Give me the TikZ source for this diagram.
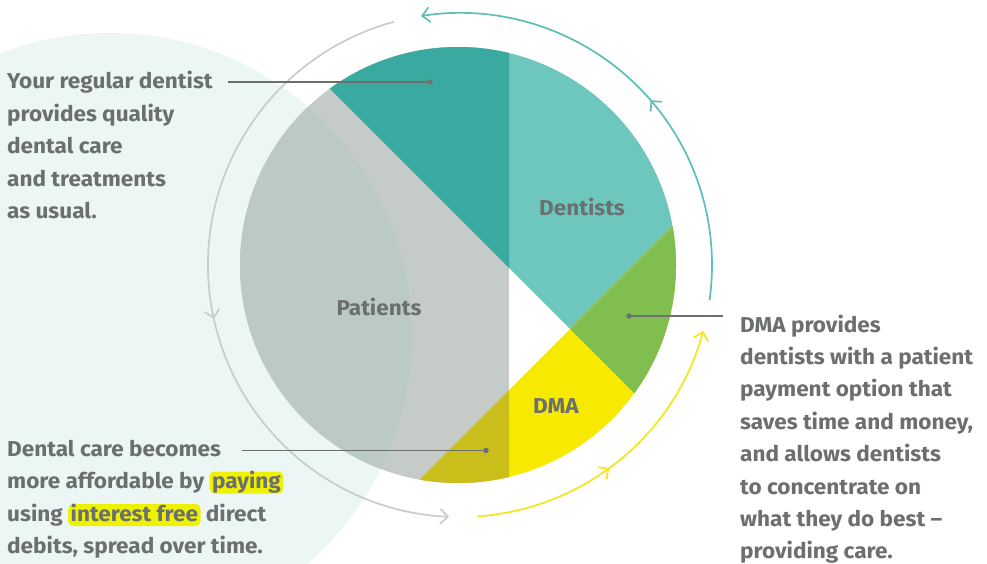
\documentclass[tikz,border=0pt]{standalone}
\usepackage{fontspec}
\setmainfont{Fira Sans}[FakeStretch=1.05]
\usetikzlibrary{arrows.meta,decorations.markings,calc}
\definecolor{mint}{HTML}{ECF6F4}
\definecolor{tealD}{HTML}{3AA9A0}
\definecolor{tealL}{HTML}{6DC7BD}
\definecolor{greenG}{HTML}{80BE4F}
\definecolor{yelY}{HTML}{F7EA00}
\definecolor{oliveO}{HTML}{CABE1B}
\definecolor{greyP}{HTML}{C5CBC8}
\definecolor{greyM}{HTML}{BCCAC6}
\definecolor{tealA}{HTML}{5DBFB7}
\definecolor{yelA}{HTML}{F5E61A}
\definecolor{greyA}{HTML}{C8CCCB}
\definecolor{leadgrey}{HTML}{6E7070}
\definecolor{textgrey}{HTML}{6B6F6F}
\definecolor{hlyel}{HTML}{EEF200}
\begin{document}
\begin{tikzpicture}[x=1pt,y=1pt,
  txt/.style={font=\fontsize{21.5}{24}\selectfont\bfseries, text=textgrey, inner sep=0pt, anchor=base west},
  hlword/.style={font=\fontsize{21.5}{24}\selectfont\bfseries, text=textgrey, fill=hlyel, rounded corners=5pt,
     inner xsep=2.5pt, inner ysep=1.5pt, text height=15.5pt, text depth=3.5pt, anchor=base west},
  lbl/.style={font=\fontsize{21.5}{26}\selectfont\bfseries, text=textgrey, inner sep=0pt},
  leader/.style={draw=leadgrey, line width=1.4pt},
  dotmark/.style={circle, fill=leadgrey, inner sep=0pt, minimum size=5.5pt},
  barb/.tip={Straight Barb[length=7.5pt,width=15pt]},
  flow/.style={line width=1.7pt, -barb, postaction={decorate},
     decoration={markings, mark=at position #1 with {\arrow{barb}}}},
]
\useasboundingbox (0,0) rectangle (987,-563);
\fill[white] (0,0) rectangle (987,-563);
\coordinate (mc) at (110,-335);
\coordinate (pc) at (458,-265);
\coordinate (ac) at (460,-265);
% background circle
\fill[mint] (mc) circle[radius=302pt];
% pie
\begin{scope}
  \clip (pc) circle[radius=218pt];
  \fill[tealL] (150,91) -- (850,-609) -- (850,100) -- (150,100) -- cycle;
  \fill[yelY] (200,-699) -- (900,1) -- (900,-700) -- (200,-700) -- cycle;
  \begin{scope}
    \clip (150,91) -- (850,-609) -- (850,100) -- (150,100) -- cycle;
    \fill[greenG] (200,-699) -- (900,1) -- (900,-700) -- (200,-700) -- cycle;
  \end{scope}
  \begin{scope}
    \clip (200,100) rectangle (509,-700);
    \fill[greyP] (200,100) rectangle (509,-700);
    \begin{scope}
      \clip (mc) circle[radius=302pt];
      \fill[greyM] (200,100) rectangle (509,-700);
    \end{scope}
    \fill[tealD] (150,91) -- (850,-609) -- (850,100) -- (150,100) -- cycle;
    \fill[oliveO] (200,-699) -- (900,1) -- (900,-700) -- (200,-700) -- cycle;
  \end{scope}
\end{scope}
% pie labels
\node[lbl] (dentists) at (582,-207) {Dentists};
\node[lbl] (patients) at (379,-307) {Patients};
\node[lbl] (dma) at (556,-406) {DMA};
% flow arcs
\draw[flow=0.457, color=tealA] ($(ac)+(352:252pt)$) arc[start angle=352, end angle=458.9, radius=252pt];
\draw[flow=0.537, color=greyA] ($(ac)+(105.2:252pt)$) arc[start angle=105.2, end angle=267.5, radius=252pt];
\draw[flow=0.457, color=yelA] ($(ac)+(273.9:252pt)$) arc[start angle=273.9, end angle=344.8, radius=252pt];
% text block 1
\node[txt] (a1) at (7,-88) {Your regular dentist};
\node[txt] (a2) at (7,-121) {provides quality};
\node[txt] (a3) at (7,-153.5) {dental care};
\node[txt] (a4) at (7,-186) {and treatments};
\node[txt] (a5) at (7,-218.5) {as usual.};
% text block 2
\node[txt] (b1) at (7,-456) {Dental care becomes};
\node[txt] (b2) at (7,-488.5) {more affordable by};
\node[hlword] (b2h) at ([xshift=5pt]b2.base east) {paying};
\node[txt] (b3) at (7,-521) {using};
\node[hlword] (b3h) at ([xshift=5pt]b3.base east) {interest free};
\node[txt] (b3t) at ([xshift=5pt]b3h.base east) {direct};
\node[txt] (b4) at (7,-553.5) {debits, spread over time.};
% text block 3
\node[txt] (c1) at (740,-332) {DMA provides};
\node[txt] (c2) at (740,-364.4) {dentists with a patient};
\node[txt] (c3) at (740,-396.8) {payment option that};
\node[txt] (c4) at (740,-429.2) {saves time and money,};
\node[txt] (c5) at (740,-461.6) {and allows dentists};
\node[txt] (c6) at (740,-494) {to concentrate on};
\node[txt] (c7) at (740,-526.4) {what they do best –};
\node[txt] (c8) at (740,-558.8) {providing care.};
% leaders
\coordinate (s1) at (228,-82);
\node[dotmark] (d1) at (430,-82) {};
\draw[leader] (s1) -- (d1.center);
\coordinate (s2) at (242,-450.5);
\node[dotmark] (d2) at (486,-450.5) {};
\draw[leader] (s2) -- (d2.center);
\coordinate (s3) at (723,-316);
\node[dotmark] (d3) at (629,-316) {};
\draw[leader] (d3.center) -- (s3);
\end{tikzpicture}
\end{document}
